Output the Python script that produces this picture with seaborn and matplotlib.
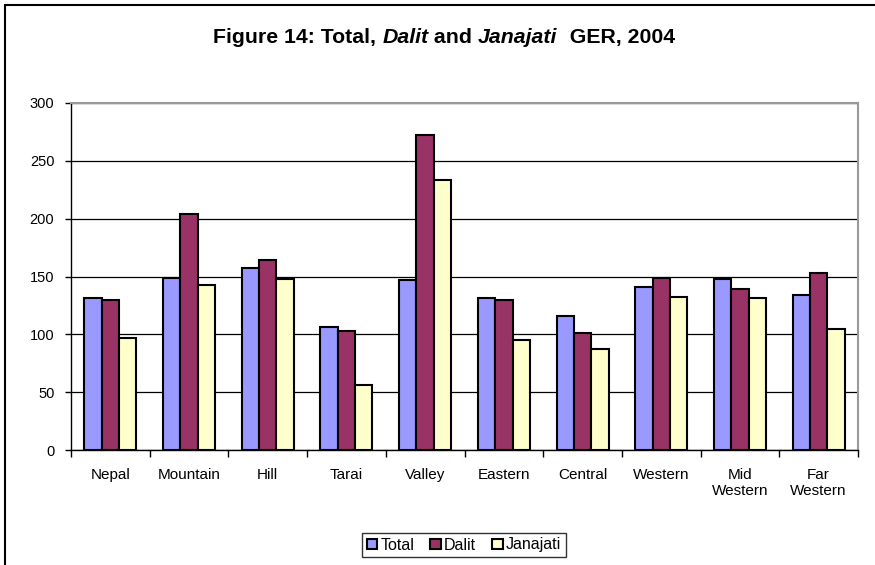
import matplotlib
matplotlib.use("Agg")
import matplotlib.pyplot as plt
from matplotlib.patches import Rectangle, Patch
import seaborn as sns
import pandas as pd

# Gross enrolment ratio by region, 2004
regions = ["Nepal", "Mountain", "Hill", "Tarai", "Valley", "Eastern",
           "Central", "Western", "Mid\nWestern", "Far\nWestern"]
total = [131, 149, 157, 106, 147, 131, 116, 141, 148, 134]
dalit = [130, 204, 164, 103, 272, 130, 101, 149, 139, 153]
janajati = [97, 143, 148, 56, 233, 95, 87, 132, 131, 105]
groups = ["Total", "Dalit", "Janajati"]
colors = ["#9999FF", "#993366", "#FFFFCC"]
yticks = [0, 50, 100, 150, 200, 250, 300]

df = pd.DataFrame({
    "region": regions * 3,
    "group": [g for g in groups for _ in regions],
    "ger": total + dalit + janajati,
})

sns.set_theme(style="white")
plt.rcParams["font.family"] = ["Liberation Sans", "DejaVu Sans"]
plt.rcParams["text.color"] = "black"
plt.rcParams["xtick.color"] = "black"
plt.rcParams["ytick.color"] = "black"
plt.rcParams["axes.labelcolor"] = "black"

W, H = 875, 565
fig = plt.figure(figsize=(W / 100, H / 100), dpi=100)
ax = fig.add_axes([71 / W, 1 - 450 / H, (858 - 71) / W, (450 - 103) / H])

sns.barplot(data=df, x="region", y="ger", hue="group", order=regions,
            hue_order=groups, palette=colors, width=0.66, gap=0,
            edgecolor="black", linewidth=1.5, saturation=1, ax=ax,
            legend=False, zorder=3)

ax.set_ylim(0, 300)
ax.set_xlim(-0.5, len(regions) - 0.5)
ax.set_yticks(yticks)
ax.set_xlabel("")
ax.set_ylabel("")
ax.yaxis.grid(True, color="black", linewidth=0.9)
ax.set_axisbelow(True)

# Axis styling: black left/bottom, grey top/right frame
for side in ("left", "bottom"):
    ax.spines[side].set_color("black")
    ax.spines[side].set_linewidth(1.0)
for side in ("top", "right"):
    ax.spines[side].set_color("#999999")
    ax.spines[side].set_linewidth(1.5)

ax.tick_params(axis="y", which="major", direction="out", length=4,
               width=1, color="black", labelsize=10.5, pad=8, left=True)
ax.tick_params(axis="x", which="major", length=0, labelsize=11, pad=13)
ax.set_xticks([i - 0.5 for i in range(len(regions) + 1)], minor=True)
ax.tick_params(axis="x", which="minor", direction="out", length=5,
               width=1, color="black", bottom=True)
for lbl in ax.get_xticklabels():
    lbl.set_linespacing(1.15)

# Outer chart frame
fig.patches.append(Rectangle((5 / W, -0.1), 1.2, 1 - 5 / H + 0.1,
                             transform=fig.transFigure, fill=False,
                             edgecolor="black", linewidth=1.5))

# Title with italic group names, assembled piece by piece
pieces = [("Figure 14: Total, ", "normal"), ("Dalit", "italic"),
          (" and ", "normal"), ("Janajati", "italic"),
          ("  GER, 2004", "normal")]
fig.canvas.draw()
renderer = fig.canvas.get_renderer()
texts = []
widths = []
for s, st in pieces:
    t = fig.text(0, 1 - 43 / H, s, fontsize=15.3, fontweight="bold",
                 style=st, ha="left", va="baseline")
    bb = t.get_window_extent(renderer=renderer)
    texts.append(t)
    widths.append(bb.width)
x = 444 - sum(widths) / 2
for t, w in zip(texts, widths):
    t.set_x(x / W)
    x += w

# Legend
handles = [Patch(facecolor=c, edgecolor="black", linewidth=1.5, label=g)
           for g, c in zip(groups, colors)]
leg = fig.legend(handles=handles, loc="center", ncol=3,
                 bbox_to_anchor=(464 / W, 1 - 545 / H), frameon=True,
                 fontsize=11.5, handlelength=0.65, handleheight=0.65,
                 handletextpad=0.2, columnspacing=1.0, borderpad=0.3,
                 fancybox=False)
leg.get_frame().set_edgecolor("black")
leg.get_frame().set_linewidth(1.0)

fig.savefig("out.png", dpi=100)
